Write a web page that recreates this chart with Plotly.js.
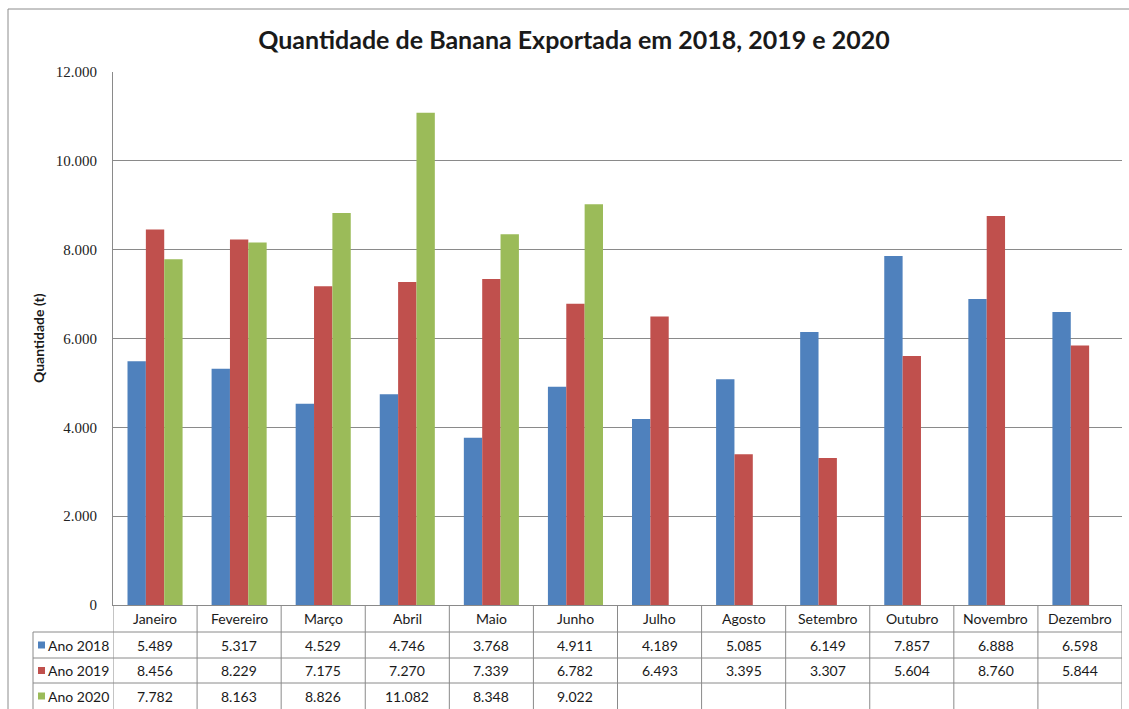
<!DOCTYPE html>
<html>
<head>
<meta charset="utf-8">
<script src="https://cdn.plot.ly/plotly-3.0.1.min.js"></script>
<style>html,body{margin:0;padding:0;background:#fff;}#chart{width:1129px;height:709px;}</style>
</head>
<body>
<div id="chart"></div>
<script>
const months = ["Janeiro","Fevereiro","Março","Abril","Maio","Junho","Julho","Agosto","Setembro","Outubro","Novembro","Dezembro"];
const seriesNames = ["Ano 2018","Ano 2019","Ano 2020"];
const ano2018 = [5489,5317,4529,4746,3768,4911,4189,5085,6149,7857,6888,6598];
const ano2019 = [8456,8229,7175,7270,7339,6782,6493,3395,3307,5604,8760,5844];
const ano2020 = [7782,8163,8826,11082,8348,9022,null,null,null,null,null,null];
const yTicks = [0,2000,4000,6000,8000,10000,12000];

const colors = ["#4F81BD","#C0504D","#9BBB59"];
const allSeries = [ano2018, ano2019, ano2020];

// layout geometry (pixels)
const W = 1129, H = 709;
const L = 113, R = 1122, T = 72, B = 605;
const pw = R - L, ph = B - T;
const px = v => (v - L) / pw;
const py = v => (B - v) / ph;

function fmt(n){
  return String(n).replace(/\B(?=(\d{3})+(?!\d))/g, ".");
}

const traces = allSeries.map((vals, i) => ({
  type: "bar",
  name: seriesNames[i],
  x: months,
  y: vals,
  marker: {color: colors[i]},
  hoverinfo: "x+y+name"
}));

const gridColor = "#8a8a8a";
const tableFont = {family: "Lato, 'Open Sans', sans-serif", size: 14, color: "#1a1a1a"};
const shapes = [];
const annotations = [];

// outer chart border
shapes.push({type:"line", xref:"paper", yref:"paper", x0:px(8), x1:px(8), y0:py(9), y1:py(712), line:{color:"#8c8c8c", width:1}});
shapes.push({type:"line", xref:"paper", yref:"paper", x0:px(8), x1:px(1132), y0:py(9), y1:py(9), line:{color:"#8c8c8c", width:1}});

// table rows boundaries
const rowTop = [605, 632, 658, 683];
const rowBottom = 712;
[632, 658, 683].forEach(y => {
  shapes.push({type:"line", xref:"paper", yref:"paper", x0:px(33), x1:px(R), y0:py(y), y1:py(y), line:{color:gridColor, width:1}});
});
for (let k = 0; k <= months.length; k++) {
  shapes.push({type:"line", xref:"x", yref:"paper", x0:k-0.5, x1:k-0.5, y0:py(605), y1:py(rowBottom), line:{color:gridColor, width:1}});
}
shapes.push({type:"line", xref:"paper", yref:"paper", x0:px(33), x1:px(33), y0:py(632), y1:py(rowBottom), line:{color:gridColor, width:1}});

// month header labels
months.forEach((m, k) => {
  annotations.push({xref:"x", yref:"paper", x:k, y:py((605+632)/2), text:m, showarrow:false, font:tableFont, xanchor:"center", yanchor:"middle"});
});
// series rows
allSeries.forEach((vals, i) => {
  const yc = (rowTop[i+1] + (i < 2 ? rowTop[i+2] : 709)) / 2;
  shapes.push({type:"rect", xref:"paper", yref:"paper", x0:px(38), x1:px(45), y0:py(yc-3.5), y1:py(yc+3.5), fillcolor:colors[i], line:{width:0}});
  annotations.push({xref:"paper", yref:"paper", x:px(46), y:py(yc), text:seriesNames[i], showarrow:false, font:tableFont, xanchor:"left", yanchor:"middle"});
  vals.forEach((v, k) => {
    if (v === null) return;
    annotations.push({xref:"x", yref:"paper", x:k, y:py(yc), text:fmt(v), showarrow:false, font:tableFont, xanchor:"center", yanchor:"middle"});
  });
});

// y axis title
annotations.push({xref:"paper", yref:"paper", x:px(38), y:py(338), text:"<b>Quantidade (t)</b>", textangle:-90, showarrow:false,
  font:{family:"Lato, 'Open Sans', sans-serif", size:14, color:"#1a1a1a"}, xanchor:"center", yanchor:"middle"});

const layout = {
  width: W, height: H,
  margin: {l: L, r: W - R, t: T, b: H - B, pad: 0},
  paper_bgcolor: "#ffffff",
  plot_bgcolor: "#ffffff",
  separators: ",.",
  showlegend: false,
  bargap: 0.345,
  bargroupgap: 0,
  barmode: "group",
  title: {
    text: "<b>Quantidade de Banana Exportada em 2018, 2019 e 2020</b>",
    x: px(574), xanchor: "center", xref: "paper",
    y: 1 - 40/H, yanchor: "middle", yref: "container",
    font: {family: "Lato, 'Open Sans', sans-serif", size: 25, color: "#1a1a1a"}
  },
  xaxis: {
    type: "category",
    showticklabels: false,
    showgrid: false,
    showline: true, linecolor: gridColor, linewidth: 1,
    ticks: "", zeroline: false,
    range: [-0.5, 11.5], fixedrange: true
  },
  yaxis: {
    range: [0, 12000],
    tickvals: yTicks,
    ticktext: yTicks.map(fmt),
    showgrid: true, gridcolor: gridColor, gridwidth: 1,
    showline: true, linecolor: gridColor, linewidth: 1,
    zeroline: false,
    ticks: "outside", ticklen: 12, tickcolor: "rgba(0,0,0,0)",
    tickfont: {family: "Liberation Serif, DejaVu Serif, serif", size: 15, color: "#222"},
    fixedrange: true
  },
  shapes: shapes,
  annotations: annotations
};

Plotly.newPlot("chart", traces, layout, {displayModeBar: false, staticPlot: true});
</script>
</body>
</html>
